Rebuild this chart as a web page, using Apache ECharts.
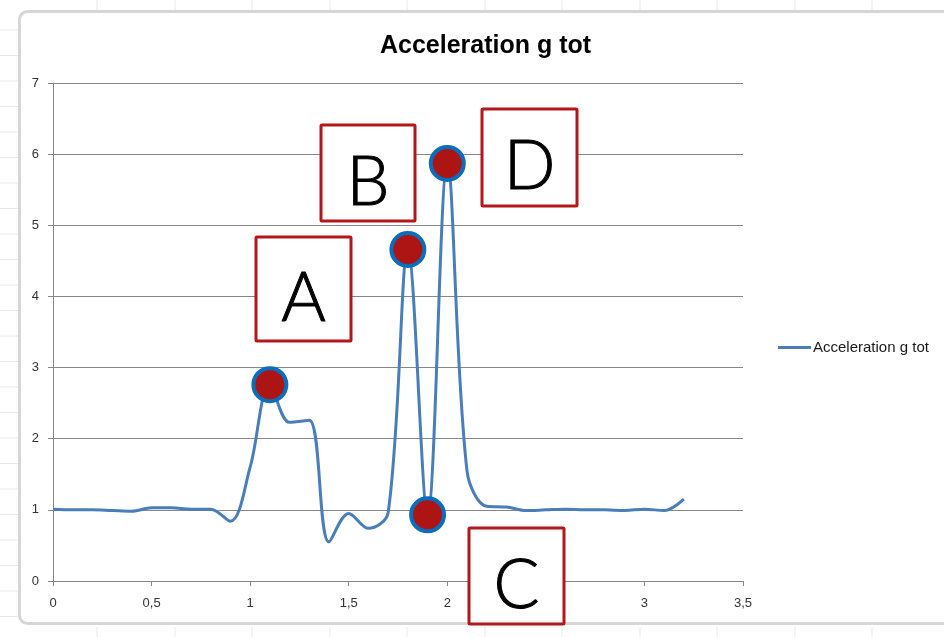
<!DOCTYPE html>
<html>
<head>
<meta charset="utf-8">
<script src="https://cdn.jsdelivr.net/npm/echarts@6/dist/echarts.min.js"></script>
<style>
  html, body { margin: 0; padding: 0; background: #ffffff; }
  #chart { width: 944px; height: 637px; }
</style>
</head>
<body>
<div id="chart"></div>
<script>
// Time (s) and total acceleration (g)
const times = [0.0, 0.1, 0.2, 0.3, 0.4, 0.5, 0.6, 0.7, 0.8, 0.9,
               1.0, 1.1, 1.2, 1.3, 1.4, 1.5, 1.6, 1.7, 1.8, 1.9,
               2.0, 2.1, 2.2, 2.3, 2.4, 2.5, 2.6, 2.7, 2.8, 2.9,
               3.0, 3.1, 3.2];
const accel = [1.01, 1.00, 1.00, 0.99, 0.98, 1.03, 1.03, 1.01, 1.01, 0.84,
               1.60, 2.76, 2.23, 2.26, 0.55, 0.95, 0.74, 0.96, 4.66, 0.93,
               5.87, 1.55, 1.05, 1.04, 0.99, 1.00, 1.01, 1.00, 1.00, 0.99,
               1.01, 0.99, 1.15];
// Highlighted samples (A, B, C, D) by index
const markedIdx = [11, 18, 19, 20];
const markLetters = ['A', 'B', 'C', 'D'];
const xTicks = { min: 0, max: 3.5, step: 0.5 };
const yTicks = { min: 0, max: 7, step: 1 };
const seriesName = 'Acceleration g tot';

const lineData = times.map((t, i) => [t, accel[i]]);
const markData = markedIdx.map(i => [times[i], accel[i]]);

const chart = echarts.init(document.getElementById('chart'), null, { renderer: 'canvas' });

const gridColor = '#878787';
const labelColor = '#333333';
const boxRed = '#b3161b';
const uiFont = '"Liberation Sans Narrow", "Liberation Sans", sans-serif';

// Letter boxes: [left, top, width, height]
const boxes = {
  A: [256, 237, 95, 104],
  B: [321, 125, 94, 96],
  C: [469, 528, 95, 96],
  D: [482, 109, 95, 97]
};

const graphics = [];
// Sheet background lines around the chart object
for (let y = 30; y < 637; y += 25.5) {
  graphics.push({ type: 'line', silent: true, z: -10,
    shape: { x1: 0, y1: y, x2: 18, y2: y },
    style: { stroke: '#e8e8e8', lineWidth: 1 } });
}
[97, 175, 252, 330, 407, 485, 562, 640, 717, 795, 872].forEach(x => {
  graphics.push({ type: 'line', silent: true, z: -10,
    shape: { x1: x, y1: 0, x2: x, y2: 10 },
    style: { stroke: '#e8e8e8', lineWidth: 1 } });
  graphics.push({ type: 'line', silent: true, z: -10,
    shape: { x1: x, y1: 627, x2: x, y2: 637 },
    style: { stroke: '#e8e8e8', lineWidth: 1 } });
});
// Chart object frame
graphics.push({ type: 'rect', silent: true, z: -5,
  shape: { x: 19.5, y: 11.5, width: 940, height: 612, r: 8 },
  style: { fill: '#ffffff', stroke: '#d6d6d6', lineWidth: 3 } });

// Annotation boxes sit above axes, labels and the series
markLetters.forEach(letter => {
  const b = boxes[letter];
  graphics.push({ type: 'rect', z: 100, silent: true,
    shape: { x: b[0], y: b[1], width: b[2], height: b[3], r: 1 },
    style: { fill: '#ffffff', stroke: boxRed, lineWidth: 3 } });
  graphics.push({ type: 'text', z: 101, silent: true,
    style: { x: b[0] + b[2] / 2, y: b[1] + b[3] / 2 + 10, text: letter,
             align: 'center', verticalAlign: 'middle',
             font: '300 68px Lato, "DejaVu Sans", sans-serif', fill: '#000000',
             stroke: '#000000', lineWidth: 1 } });
});

chart.setOption({
  animation: false,
  backgroundColor: 'transparent',
  title: {
    text: seriesName,
    left: 375, top: 29,
    textStyle: { fontFamily: uiFont, fontWeight: 'bold', fontSize: 25, color: '#000000' }
  },
  legend: {
    data: [seriesName],
    left: 773, top: 335,
    icon: 'rect', itemWidth: 33, itemHeight: 3, itemGap: 4,
    textStyle: { fontFamily: uiFont, fontSize: 15, color: '#1a1a1a', padding: [0, 0, 0, -3] }
  },
  grid: { left: 53, right: 201, top: 83, bottom: 56 },
  xAxis: {
    type: 'value',
    min: xTicks.min, max: xTicks.max, interval: xTicks.step,
    axisLine: { show: true, lineStyle: { color: gridColor, width: 1 } },
    axisTick: { show: true, inside: false, length: 5, lineStyle: { color: gridColor } },
    splitLine: { show: false },
    axisLabel: {
      margin: 16, color: labelColor, fontSize: 13, fontFamily: uiFont,
      formatter: v => String(v).replace('.', ',')
    }
  },
  yAxis: {
    type: 'value',
    min: yTicks.min, max: yTicks.max, interval: yTicks.step,
    axisLine: { show: true, lineStyle: { color: gridColor, width: 1 } },
    axisTick: { show: true, inside: false, length: 5, lineStyle: { color: gridColor } },
    splitLine: { show: true, lineStyle: { color: gridColor, width: 1 } },
    axisLabel: { margin: 14, color: labelColor, fontSize: 13, fontFamily: uiFont }
  },
  series: [
    {
      name: seriesName,
      type: 'line',
      data: lineData,
      smooth: 0.35,
      showSymbol: false,
      lineStyle: { color: '#4a7ebb', width: 3 },
      itemStyle: { color: '#4a7ebb' },
      z: 3
    },
    {
      name: 'marks',
      type: 'scatter',
      data: markData,
      symbol: 'circle',
      symbolSize: 33,
      itemStyle: { color: '#ad1414', borderColor: '#0a6ebd', borderWidth: 4, opacity: 1 },
      emphasis: { disabled: true },
      z: 5
    }
  ],
  graphic: graphics
});
</script>
</body>
</html>
